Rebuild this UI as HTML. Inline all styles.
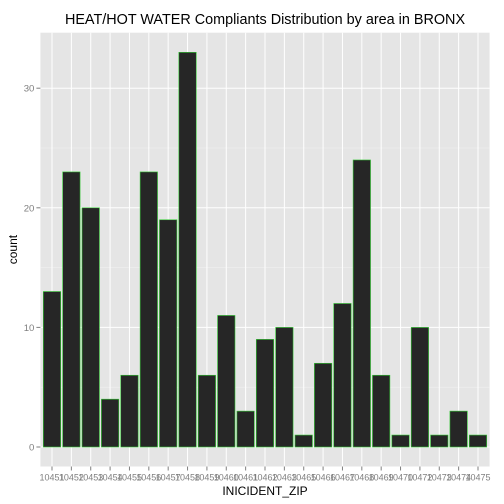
<!DOCTYPE html>
<html><head><meta charset="utf-8"><style>body{margin:0;background:#fff}svg{display:block;font-family:"Liberation Sans",sans-serif}</style></head>
<body>
<svg id="c" width="504" height="504"></svg>
<script>
const categories=["10451","10452","10453","10454","10455","10456","10457","10458","10459","10460","10461","10462","10463","10465","10466","10467","10468","10469","10470","10472","10473","10474","10475"];
const counts=[13,23,20,4,6,23,19,33,6,11,3,9,10,1,7,12,24,6,1,10,1,3,1];
const yTicks=[0,10,20,30];
const L=40.4,R=489.6,T=32.7,B=466.5;
const x0=52,x1=478;
const step=(x1-x0)/(categories.length-1);
const x=i=>x0+i*step;
const y=v=>447-v*11.96;
const svg=document.getElementById('c');const NS='http://www.w3.org/2000/svg';
function mk(t,a,p){const e=document.createElementNS(NS,t);for(const k in a)e.setAttribute(k,a[k]);(p||svg).appendChild(e);return e;}
const bg=mk('rect',{x:L,y:T,width:R-L,height:B-T,fill:'#e5e5e5'});


yTicks.forEach(v=>{const m=v+5;if(y(m)>T){const g=mk('line',{x1:L,x2:R,y1:y(m),y2:y(m),stroke:'#f2f2f2','stroke-width':0.5});}});
yTicks.forEach(v=>{const g=mk('line',{x1:L,x2:R,y1:y(v),y2:y(v),stroke:'#fff','stroke-width':1});
const t=mk('line',{x1:L-4,x2:L,y1:y(v),y2:y(v),stroke:'#7f7f7f'});
const l=mk('text',{x:L-6,y:y(v)+3.5,'text-anchor':'end','font-size':9.6,fill:'#7f7f7f'});l.textContent=v;});
categories.forEach((c,i)=>{const g=mk('line',{x1:x(i),x2:x(i),y1:T,y2:B,stroke:'#fff'});});
categories.forEach((c,i)=>{const w=step*0.9;const b=mk('rect',{x:x(i)-w/2,y:y(counts[i]),width:w,height:y(0)-y(counts[i]),fill:'#262626',stroke:'#33cc33','stroke-width':0.6});

const t=mk('line',{x1:x(i),x2:x(i),y1:B,y2:B+4,stroke:'#7f7f7f'});
const l=mk('text',{x:x(i),y:B+14,'text-anchor':'middle','font-size':9.6,fill:'#7f7f7f',textLength:25,lengthAdjust:'spacingAndGlyphs'});l.textContent=c;});
const tt=mk('text',{x:(L+R)/2,y:24,'text-anchor':'middle','font-size':14.4,fill:'#000'});tt.textContent='HEAT/HOT WATER Compliants Distribution by area in BRONX';
const xt=mk('text',{x:(L+R)/2,y:495,'text-anchor':'middle','font-size':12,fill:'#000'});xt.textContent='INICIDENT_ZIP';
const yt=mk('text',{x:0,y:0,'text-anchor':'middle','font-size':12,fill:'#000',transform:`translate(17,${(T+B)/2}) rotate(-90)`});yt.textContent='count';
</script>
</body></html>
